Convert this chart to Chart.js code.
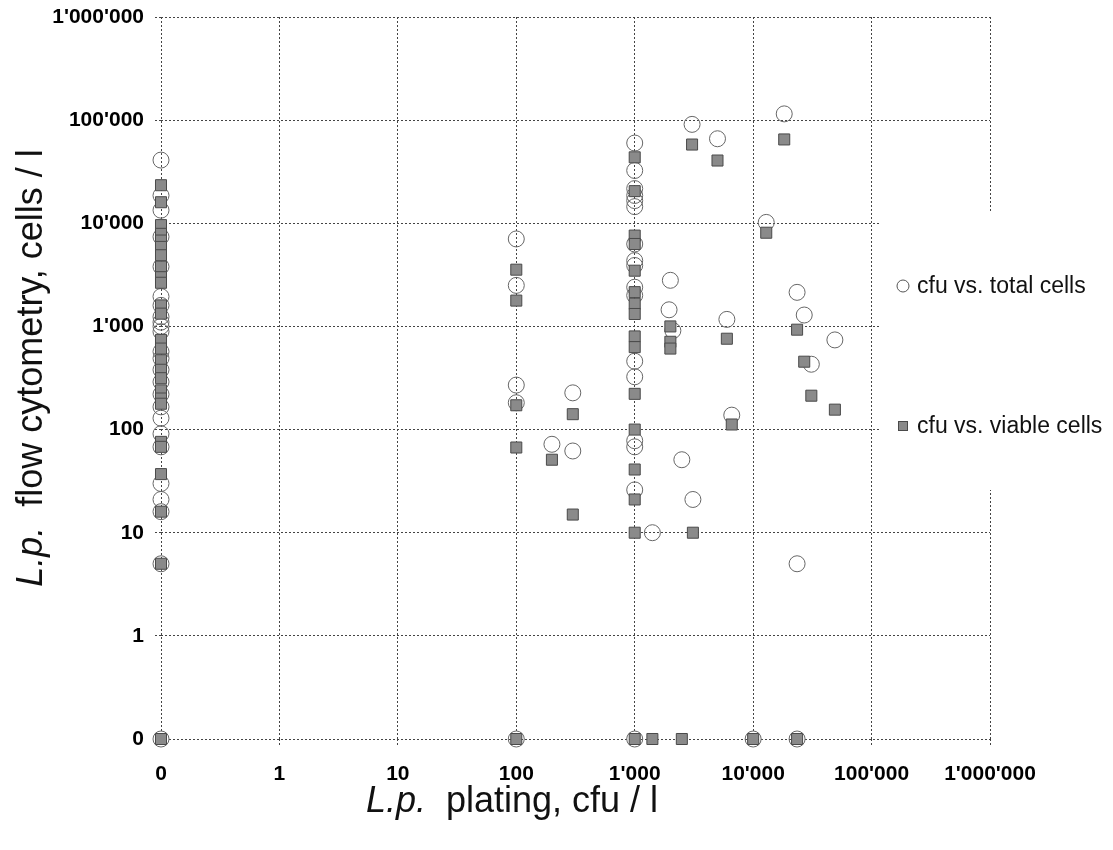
<!DOCTYPE html>
<html>
<head>
<meta charset="utf-8">
<script src="https://cdn.jsdelivr.net/npm/chart.js@4.4.1/dist/chart.umd.min.js"></script>
<style>
  html, body { margin: 0; padding: 0; background: #fff; }
  #wrap { width: 1113px; height: 850px; }
</style>
</head>
<body>
<div id="wrap"><canvas id="myChart"></canvas></div>
<script>
// "0" is drawn one decade below 1 on both log axes
const ZERO_POS = 0.1;
const decadeTicks = [0, 1, 10, 100, 1000, 10000, 100000, 1000000];

// cfu vs. total cells (open circles)
const totalX = [
    0, 0, 0, 0, 0, 0, 0, 0, 0, 0, 0, 0, 0, 0, 0, 0, 0, 0, 0, 0, 0, 0, 0, 0, 0,
    100, 100, 100, 100, 100,
    200, 300, 300,
    1000, 1000, 1000, 1000, 1000, 1000, 1000, 1000, 1000, 1000, 1000, 1000, 1000, 1000, 1000, 1000, 1000,
    1410, 1950, 2000, 2100, 2500, 3050, 3100, 5000, 6000, 6600, 10000, 12900, 18300, 23500, 23500, 23500, 27000, 31000, 49000,
];
const totalY = [
    41000, 18600, 13400, 7400, 3800, 1950, 1600, 1240, 1100, 1000, 890, 570, 490, 380, 290, 220, 166, 129, 91, 68, 30, 21, 16, 5, 0,
    7050, 2500, 270, 182, 0,
    72, 227, 62,
    60000, 32500, 21700, 18600, 16600, 14500, 6300, 4350, 3900, 2400, 2000, 460, 325, 78, 68, 26, 0,
    10, 1450, 2800, 910, 51, 91000, 21, 66000, 1170, 138, 0, 10200, 115000, 2140, 5, 0, 1290, 430, 740,
];

// cfu vs. viable cells (grey squares)
const viableX = [
    0, 0, 0, 0, 0, 0, 0, 0, 0, 0, 0, 0, 0, 0, 0, 0, 0, 0, 0, 0, 0, 0, 0, 0, 0, 0,
    100, 100, 100, 100, 100,
    200, 300, 300,
    1000, 1000, 1000, 1000, 1000, 1000, 1000, 1000, 1000, 1000, 1000, 1000, 1000, 1000, 1000, 1000,
    1410, 2000, 2000, 2000, 2500, 3050, 3100, 5000, 6000, 6600, 10000, 12900, 18300, 23500, 23500, 27000, 31000, 49000,
];
const viableY = [
    23400, 16000, 9600, 7900, 6800, 5900, 4900, 3800, 3000, 2650, 1600, 1330, 740, 610, 470, 380, 315, 240, 200, 178, 76, 68, 37, 16, 5, 0,
    3550, 1780, 172, 67, 0,
    51, 141, 15,
    43600, 20500, 7600, 6300, 3470, 2150, 1660, 1320, 800, 630, 222, 100, 41, 21, 10, 0,
    0, 1000, 710, 610, 0, 58000, 10, 40600, 760, 112, 0, 8100, 65000, 930, 0, 455, 213, 156,
];

const seriesLabels = ['cfu vs. total cells', 'cfu vs. viable cells'];

const FONT = "'Liberation Sans', Arial, sans-serif";

function toPoints(xs, ys) {
    return xs.map((x, i) => ({
        x: x === 0 ? ZERO_POS : x,
        y: ys[i] === 0 ? ZERO_POS : ys[i],
    }));
}

function fmt(v) {
    if (v < 1) return '0';
    return Math.round(v).toLocaleString('en-US').replace(/,/g, "'");
}

function logAxis(isX) {
    return {
        type: 'logarithmic',
        min: ZERO_POS,
        max: 1000000,
        afterBuildTicks: (s) => {
            s.ticks = decadeTicks.map((v) => ({ value: v === 0 ? ZERO_POS : v }));
        },
        afterFit: (s) => {
            if (isX) {
                s.height = 111;
                s.paddingLeft = 0;
                s.paddingRight = 0;
            } else {
                s.width = 161;
                s.paddingTop = 0;
                s.paddingBottom = 0;
            }
        },
        ticks: {
            callback: (v) => fmt(v),
            autoSkip: false,
            maxRotation: 0,
            color: '#000',
            padding: isX ? 17 : 11,
            font: { family: FONT, size: 21, weight: 'bold' },
        },
        grid: {
            color: '#444',
            lineWidth: 1,
            tickLength: 6,
            tickColor: '#444',
            tickBorderDash: [2, 2],
        },
        border: { display: false, dash: [2, 2] },
    };
}

// legend sits on a white box over the right edge of the plot
const sideLegend = {
    id: 'sideLegend',
    afterDraw(chart) {
        const ctx = chart.ctx;
        ctx.save();
        ctx.fillStyle = '#fff';
        ctx.fillRect(880, 212, 233, 278);

        ctx.lineWidth = 1;
        ctx.strokeStyle = '#555';
        ctx.beginPath();
        ctx.arc(903, 286, 6, 0, Math.PI * 2);
        ctx.stroke();

        ctx.fillStyle = '#8a8a8a';
        ctx.fillRect(898, 421, 10, 10);
        ctx.strokeStyle = '#4a4a4a';
        ctx.strokeRect(898.5, 421.5, 9, 9);

        ctx.fillStyle = '#111';
        ctx.font = '23px ' + FONT;
        ctx.textBaseline = 'middle';
        ctx.textAlign = 'left';
        ctx.fillText(seriesLabels[0], 917, 287);
        ctx.fillText(seriesLabels[1], 917, 427);
        ctx.restore();
    },
};

function drawMixed(ctx, parts, size) {
    let total = 0;
    parts.forEach((p) => {
        ctx.font = (p[1] ? 'italic ' : '') + size + 'px ' + FONT;
        total += ctx.measureText(p[0]).width;
    });
    let x = -total / 2;
    parts.forEach((p) => {
        ctx.font = (p[1] ? 'italic ' : '') + size + 'px ' + FONT;
        ctx.fillText(p[0], x, 0);
        x += ctx.measureText(p[0]).width;
    });
}

const axisTitles = {
    id: 'axisTitles',
    afterDraw(chart) {
        const ctx = chart.ctx;
        ctx.save();
        ctx.fillStyle = '#111';
        ctx.textBaseline = 'middle';
        ctx.textAlign = 'left';
        ctx.translate(512, 802);
        drawMixed(ctx, [['L.p.', true], ['  plating, cfu / l', false]], 36);
        ctx.restore();

        ctx.save();
        ctx.fillStyle = '#111';
        ctx.textBaseline = 'middle';
        ctx.textAlign = 'left';
        ctx.translate(32, 368);
        ctx.rotate(-Math.PI / 2);
        drawMixed(ctx, [['L.p.', true], ['  flow cytometry, cells / l', false]], 36);
        ctx.restore();
    },
};

const config = {
    type: 'scatter',
    data: {
        datasets: [
            {
                label: seriesLabels[1],
                data: toPoints(viableX, viableY),
                pointStyle: 'rect',
                pointRadius: 7.8,
                backgroundColor: '#8a8a8a',
                borderColor: '#4a4a4a',
                borderWidth: 1,
                clip: false,
            },
            {
                label: seriesLabels[0],
                data: toPoints(totalX, totalY),
                pointStyle: 'circle',
                pointRadius: 8,
                backgroundColor: 'rgba(0,0,0,0)',
                borderColor: '#666',
                borderWidth: 1,
                clip: false,
            },
        ],
    },
    options: {
        responsive: true,
        maintainAspectRatio: false,
        animation: false,
        layout: { padding: { top: 17, right: 123, bottom: 0, left: 0 } },
        scales: {
            x: logAxis(true),
            y: logAxis(false),
        },
        plugins: {
            legend: { display: false },
            tooltip: { enabled: false },
        },
    },
    plugins: [sideLegend, axisTitles],
};

const myChart = new Chart(document.getElementById('myChart'), config);
</script>
</body>
</html>
